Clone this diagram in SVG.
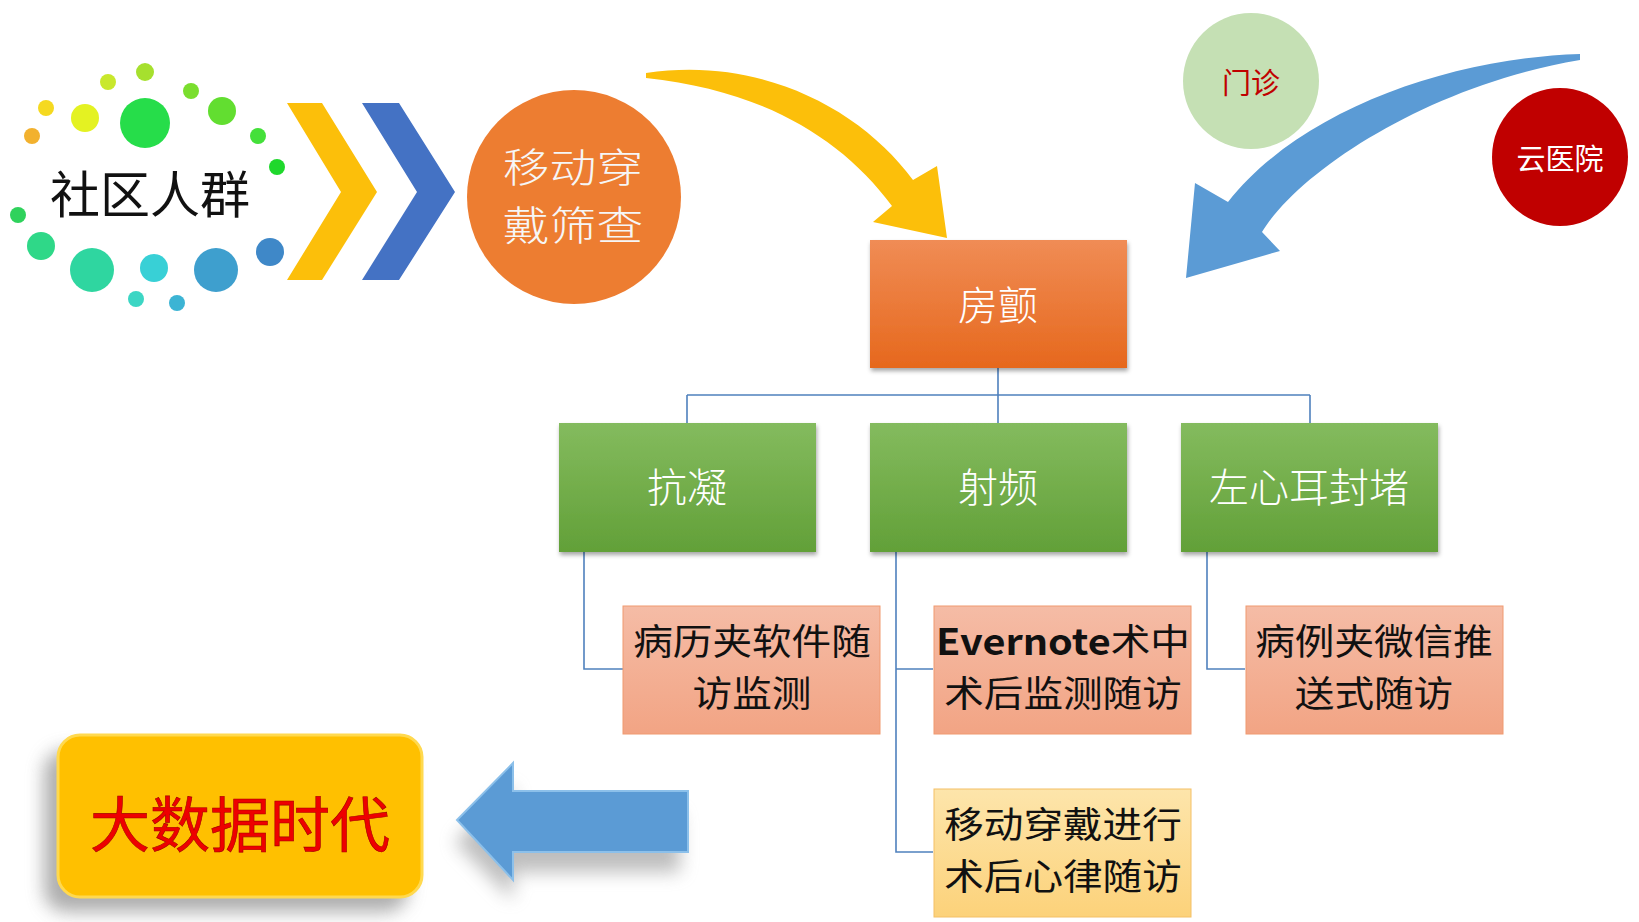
<svg xmlns="http://www.w3.org/2000/svg" width="1639" height="922" viewBox="0 0 1639 922">
<defs>
<style>
.cjk{font-family:"Noto Sans CJK SC","Noto Sans",sans-serif;}
.wt{fill:#ffffff;font-weight:300;}
.bk{fill:#111111;}
.conn{stroke:#4f81bd;stroke-width:1.6;fill:none;}
</style>
<linearGradient id="gOr" x1="0" y1="0" x2="0" y2="1"><stop offset="0" stop-color="#f08c55"/><stop offset="1" stop-color="#e6681d"/></linearGradient>
<linearGradient id="gGr" x1="0" y1="0" x2="0" y2="1"><stop offset="0" stop-color="#84bb5e"/><stop offset="1" stop-color="#62a038"/></linearGradient>
<linearGradient id="gSa" x1="0" y1="0" x2="0" y2="1"><stop offset="0" stop-color="#f5bca6"/><stop offset="1" stop-color="#f2a484"/></linearGradient>
<linearGradient id="gYe" x1="0" y1="0" x2="0" y2="1"><stop offset="0" stop-color="#fde5ab"/><stop offset="1" stop-color="#fcd27a"/></linearGradient>
<filter id="sh" x="-10%" y="-10%" width="130%" height="130%"><feDropShadow dx="1" dy="3" stdDeviation="2" flood-color="#000" flood-opacity="0.35"/></filter>
<filter id="bigsh" x="-30%" y="-30%" width="160%" height="160%"><feGaussianBlur stdDeviation="9"/></filter>
</defs>
<rect width="1639" height="922" fill="#ffffff"/>

<g id="community">
<circle cx="145" cy="72" r="9" fill="#a6e02e"/>
<circle cx="108" cy="82" r="8" fill="#c9e82c"/>
<circle cx="191" cy="91" r="8" fill="#7ade2e"/>
<circle cx="46" cy="108" r="8" fill="#f5d920"/>
<circle cx="85" cy="118" r="14" fill="#e4f222"/>
<circle cx="145" cy="123" r="25" fill="#26dd4a"/>
<circle cx="222" cy="111" r="14" fill="#62de30"/>
<circle cx="32" cy="136" r="8" fill="#f2b12e"/>
<circle cx="258" cy="136" r="8" fill="#44e03a"/>
<circle cx="277" cy="167" r="8" fill="#1fd82c"/>
<circle cx="18" cy="215" r="8" fill="#2fd25c"/>
<circle cx="41" cy="246" r="14" fill="#2fd888"/>
<circle cx="92" cy="270" r="22" fill="#2fd6a0"/>
<circle cx="154" cy="268" r="14" fill="#38d0d6"/>
<circle cx="216" cy="270" r="22" fill="#3e9fce"/>
<circle cx="270" cy="252" r="14" fill="#3f88c8"/>
<circle cx="136" cy="299" r="8" fill="#3cd6c4"/>
<circle cx="177" cy="303" r="8" fill="#3cb4d4"/>
<text class="cjk bk" x="150" y="191" font-size="50" text-anchor="middle" dominant-baseline="central">社区人群</text>
</g>

<g id="chevrons">
<polygon points="287,103 322,103 377,192 322,280 287,280 341,192" fill="#fcbf0a"/>
<polygon points="362,103 399,103 455,192 399,280 362,280 417,192" fill="#4472c4"/>
</g>

<g id="screening">
<circle cx="574" cy="197" r="107" fill="#ed7d31"/>
<g transform="translate(573,0) scale(1.17,1)">
<text class="cjk" fill="#f6f6f6" font-weight="300" font-size="40" text-anchor="middle"><tspan x="0" y="182">移动穿</tspan><tspan x="0" y="240">戴筛查</tspan></text>
</g>
</g>

<g id="yellow-arrow">
<path d="M646,73 C760,56 860,108 913,180 L937,166 L947,238 L873,222 L892,206 C840,136 760,90 646,78 Z" fill="#fcbf0a"/>
</g>

<g id="blue-curved-arrow">
<path d="M1580,54 C1450,58 1300,110 1228,202 L1195,183 L1186,278 L1280,251 L1262,232 C1300,170 1430,85 1580,60 Z" fill="#5b9bd5"/>
</g>

<g id="outpatient">
<circle cx="1251" cy="81" r="68" fill="#c5e0b4"/>
<text class="cjk" fill="#c00000" x="1251" y="81" font-size="29" text-anchor="middle" dominant-baseline="central">门诊</text>
</g>

<g id="cloud-hospital">
<ellipse cx="1560" cy="157" rx="68" ry="69" fill="#c00000"/>
<text class="cjk" fill="#ffffff" x="1560" y="157" font-size="29" text-anchor="middle" dominant-baseline="central">云医院</text>
</g>

<g id="connectors">
<path class="conn" d="M998,368 V395 M687,395 H1310 M687,395 V423 M998,395 V423 M1310,395 V423"/>
<path class="conn" d="M584,552 V669 H623"/>
<path class="conn" d="M896,552 V852 H933 M896,669 H933"/>
<path class="conn" d="M1207,552 V669 H1245"/>
</g>

<g id="af">
<rect x="870" y="240" width="257" height="128" fill="url(#gOr)" filter="url(#sh)"/>
<text class="cjk wt" x="998" y="303" font-size="40" text-anchor="middle" dominant-baseline="central">房颤</text>
</g>

<g id="anticoag">
<rect x="559" y="423" width="257" height="129" fill="url(#gGr)" filter="url(#sh)"/>
<text class="cjk wt" x="687" y="485" font-size="40" text-anchor="middle" dominant-baseline="central">抗凝</text>
</g>
<g id="ablation">
<rect x="870" y="423" width="257" height="129" fill="url(#gGr)" filter="url(#sh)"/>
<text class="cjk wt" x="998" y="485" font-size="40" text-anchor="middle" dominant-baseline="central">射频</text>
</g>
<g id="laao">
<rect x="1181" y="423" width="257" height="129" fill="url(#gGr)" filter="url(#sh)"/>
<text class="cjk wt" x="1309" y="485" font-size="40" text-anchor="middle" dominant-baseline="central">左心耳封堵</text>
</g>

<g id="sub1">
<rect x="623" y="606" width="257" height="128" fill="url(#gSa)" stroke="#f09a70" stroke-width="1"/>
<g transform="translate(752,0) scale(1.1,1)">
<text class="cjk bk" font-size="36" text-anchor="middle"><tspan x="0" y="655">病历夹软件随</tspan><tspan x="0" y="707">访监测</tspan></text>
</g>
</g>
<g id="sub2">
<rect x="934" y="606" width="257" height="128" fill="url(#gSa)" stroke="#f09a70" stroke-width="1"/>
<g transform="translate(1063,0) scale(1.1,1)">
<text class="cjk bk" font-size="36" text-anchor="middle"><tspan x="0" y="655"><tspan font-weight="bold">Evernote</tspan>术中</tspan><tspan x="0" y="707">术后监测随访</tspan></text>
</g>
</g>
<g id="sub3">
<rect x="1246" y="606" width="257" height="128" fill="url(#gSa)" stroke="#f09a70" stroke-width="1"/>
<g transform="translate(1374,0) scale(1.1,1)">
<text class="cjk bk" font-size="36" text-anchor="middle"><tspan x="0" y="655">病例夹微信推</tspan><tspan x="0" y="707">送式随访</tspan></text>
</g>
</g>
<g id="sub4">
<rect x="934" y="789" width="257" height="128" fill="url(#gYe)" stroke="#f4c066" stroke-width="1"/>
<g transform="translate(1063,0) scale(1.1,1)">
<text class="cjk bk" font-size="36" text-anchor="middle"><tspan x="0" y="838">移动穿戴进行</tspan><tspan x="0" y="890">术后心律随访</tspan></text>
</g>
</g>

<g id="bigdata">
<rect x="44" y="750" width="364" height="162" rx="22" fill="#777" opacity="0.6" filter="url(#bigsh)"/>
<rect x="58" y="735" width="364" height="162" rx="22" fill="#ffc000" stroke="#ffd94f" stroke-width="3"/>
<text class="cjk" fill="#ee0000" stroke="#a00000" stroke-width="0.6" x="240" y="820" font-size="60" text-anchor="middle" dominant-baseline="central">大数据时代</text>
</g>

<g id="left-arrow">
<polygon points="455,842 513,785 513,813 680,813 680,872 513,872 513,900" fill="#888" opacity="0.55" filter="url(#bigsh)"/>
<polygon points="457,820 513,763 513,791 688,791 688,852 513,852 513,880" fill="#5b9bd5" stroke="#8cc0ea" stroke-width="2"/>
</g>
</svg>
